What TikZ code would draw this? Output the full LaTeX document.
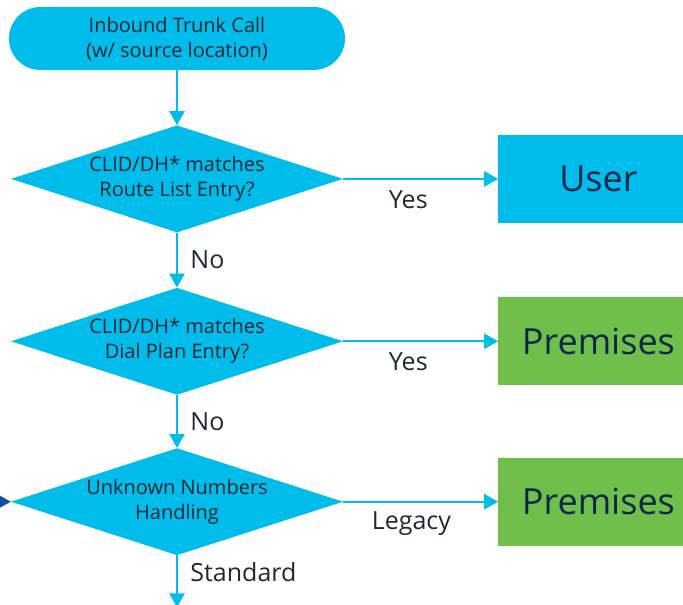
\documentclass[tikz,border=0pt]{standalone}
\usepackage{fontspec}
\setmainfont{Open Sans}
\usepackage{tikz}
\usetikzlibrary{shapes,arrows,positioning}
\usetikzlibrary{arrows.meta}

\definecolor{callcyan}{HTML}{00BCEB}
\definecolor{premgreen}{HTML}{70BF4B}
\definecolor{feedblue}{HTML}{0D4FA3}
\definecolor{inktext}{HTML}{1E2733}
\definecolor{boxtext}{HTML}{0E2748}

\begin{document}
\begin{tikzpicture}[x=1pt, y=1pt, node distance=55pt,
    every node/.style={text=inktext},
    flow/.style={draw=callcyan, line width=2.2pt, -{Triangle[length=14pt,width=15pt]}},
    entry/.style={fill=callcyan, rounded corners=31.5pt, minimum width=336pt,
        minimum height=63pt, align=center, font=\fontsize{20}{25}\selectfont},
    check/.style={diamond, fill=callcyan, aspect=3, inner sep=0pt, minimum width=332pt,
        minimum height=107pt, align=center, font=\fontsize{20}{25}\selectfont},
    outcome/.style={minimum width=200pt, minimum height=88pt, text=boxtext,
        font=\fontsize{36}{40}\selectfont},
    lbl/.style={font=\fontsize{25}{28}\selectfont}]

    \useasboundingbox (0,0) rectangle (683,-605);

    \node[entry] (call) at (177,-38.5) {Inbound Trunk Call\\(w/ source location)};
    \node[check, below=of call] (routelist) {CLID/DH* matches\\Route List Entry?};
    \node[check, below=of routelist] (dialplan) {CLID/DH* matches\\Dial Plan Entry?};
    \node[check, below=53pt of dialplan] (unknown) {Unknown Numbers\\Handling};

    \node[outcome, fill=callcyan, right=155pt of routelist] (user) {User};
    \node[outcome, fill=premgreen, right=155pt of dialplan] (prem1) {Premises};
    \node[outcome, fill=premgreen, right=155pt of unknown] (prem2) {Premises};

    % off-page ends
    \coordinate[left=40pt of unknown.west] (feed);
    \coordinate[below=52pt of unknown.south] (exit);

    \draw[flow] (call) -- (routelist);
    \draw[flow] (routelist) -- node[lbl, below, pos=0.42, yshift=-7pt] {Yes} (user);
    \draw[flow] (routelist) -- node[lbl, right, xshift=9pt] {No} (dialplan);
    \draw[flow] (dialplan) -- node[lbl, below, pos=0.42, yshift=-7pt] {Yes} (prem1);
    \draw[flow] (dialplan) -- node[lbl, right, xshift=9pt] {No} (unknown);
    \draw[flow] (unknown) -- node[lbl, below, pos=0.44, yshift=-6pt] {Legacy} (prem2);
    \draw[flow] (unknown) -- node[lbl, right, xshift=9pt, pos=0.33] {Standard} (exit);
    \draw[flow, draw=feedblue] (feed) -- (unknown.west);
\end{tikzpicture}
\end{document}
